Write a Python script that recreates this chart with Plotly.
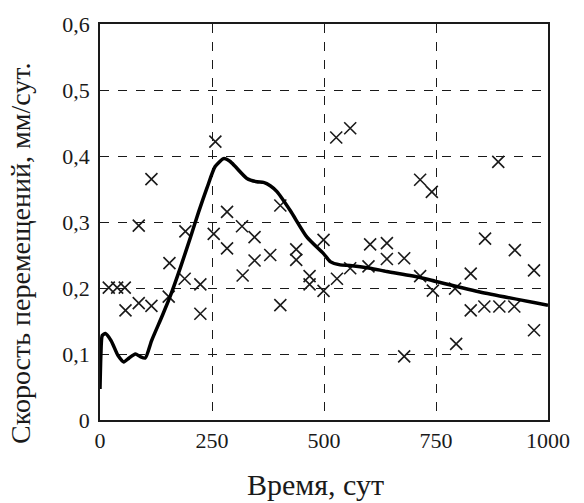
import plotly.graph_objects as go

# Scatter observations (time, days; velocity, mm/day)
obs_x = [19.6, 38.3, 55.3, 56.9, 86.5, 86.5, 114.8, 114.8, 153.4, 155, 189, 190.6, 224, 224,
         253.8, 257.5, 283.6, 283.6, 317, 318.4, 345, 345, 380, 402.5, 402.5, 438, 438,
         467.8, 467.8, 499, 499, 527.3, 528.9, 558.5, 558.5, 599.3, 603, 640.4, 640.4,
         679, 679, 714.6, 714.6, 740.7, 743, 792.6, 795, 827.5, 827.5, 857.9, 859.5, 889,
         891.4, 924.8, 926, 968.8, 968.8]
obs_y = [0.2005, 0.2005, 0.2005, 0.166, 0.2945, 0.177, 0.365, 0.173, 0.187, 0.2376, 0.214, 0.2857,
         0.2055, 0.161, 0.282, 0.4218, 0.3153, 0.26, 0.2936, 0.219, 0.277, 0.2416, 0.25, 0.325,
         0.174, 0.2585, 0.2426, 0.218, 0.2055, 0.273, 0.1956, 0.428, 0.214, 0.442, 0.230, 0.2327,
         0.266, 0.268, 0.244, 0.245, 0.0965, 0.364, 0.218, 0.3456, 0.196, 0.199, 0.1154, 0.2218,
         0.166, 0.172, 0.2748, 0.391, 0.172, 0.172, 0.2574, 0.2268, 0.136]

# Model curve
fit_x = [0, 2, 5, 12, 25, 40, 53, 65, 79, 90, 101, 115, 139, 157, 180, 202, 220, 239, 257, 276,
         290, 302, 328, 350, 365, 380, 395, 425, 462, 499, 514, 536, 558, 603, 640, 715, 755,
         848, 1000]
fit_y = [0.047, 0.10, 0.128, 0.131, 0.12, 0.098, 0.088, 0.094, 0.100, 0.096, 0.094, 0.12, 0.158,
         0.188, 0.232, 0.277, 0.315, 0.352, 0.384, 0.396, 0.392, 0.384, 0.366, 0.361, 0.360,
         0.355, 0.346, 0.317, 0.277, 0.252, 0.240, 0.235, 0.234, 0.230, 0.225, 0.216, 0.209,
         0.194, 0.174]

x_ticks = [0, 250, 500, 750, 1000]
x_ticktext = ["0", "250", "500", "750", "1000"]
y_ticks = [0, 0.1, 0.2, 0.3, 0.4, 0.5, 0.6]
y_ticktext = ["0", "0,1", "0,2", "0,3", "0,4", "0,5", "0,6"]

x_title = "Время, сут"
y_title = "Скорость перемещений, мм/сут."

FONT = "Times New Roman, Liberation Serif, DejaVu Serif, serif"
INK = "#1a1a1a"

fig = go.Figure()
fig.add_trace(go.Scatter(
    x=obs_x, y=obs_y, mode="markers",
    marker=dict(symbol="x-thin-open", size=12, color=INK, line=dict(width=1.6, color=INK)),
    showlegend=False, cliponaxis=False))
fig.add_trace(go.Scatter(
    x=fit_x, y=fit_y, mode="lines",
    line=dict(color="black", width=3.5, shape="spline", smoothing=0.6),
    showlegend=False))

axis_common = dict(
    showline=True, linecolor=INK, linewidth=1.5, mirror=True,
    showgrid=True, gridcolor=INK, griddash="dash", gridwidth=1.3,
    zeroline=False, ticks="", tickfont=dict(family=FONT, size=22, color=INK),
)
fig.update_xaxes(range=[0, 1000], tickvals=x_ticks, ticktext=x_ticktext, **axis_common)
fig.update_yaxes(range=[0, 0.6], tickvals=y_ticks, ticktext=y_ticktext, ticklabelstandoff=4, **axis_common)

fig.add_annotation(text=x_title, xref="paper", yref="paper", x=0.48, y=-0.115,
                   showarrow=False, yanchor="top",
                   font=dict(family=FONT, size=30, color=INK))
fig.add_annotation(text=y_title, xref="paper", yref="paper", x=-0.178, y=0.42,
                   showarrow=False, textangle=-90, xanchor="center", yanchor="middle",
                   font=dict(family=FONT, size=28, color=INK))

fig.update_layout(
    width=584, height=503,
    margin=dict(l=100, r=36, t=16, b=83),
    plot_bgcolor="white", paper_bgcolor="white",
    font=dict(family=FONT, color=INK),
)
fig.write_html("out.html")
